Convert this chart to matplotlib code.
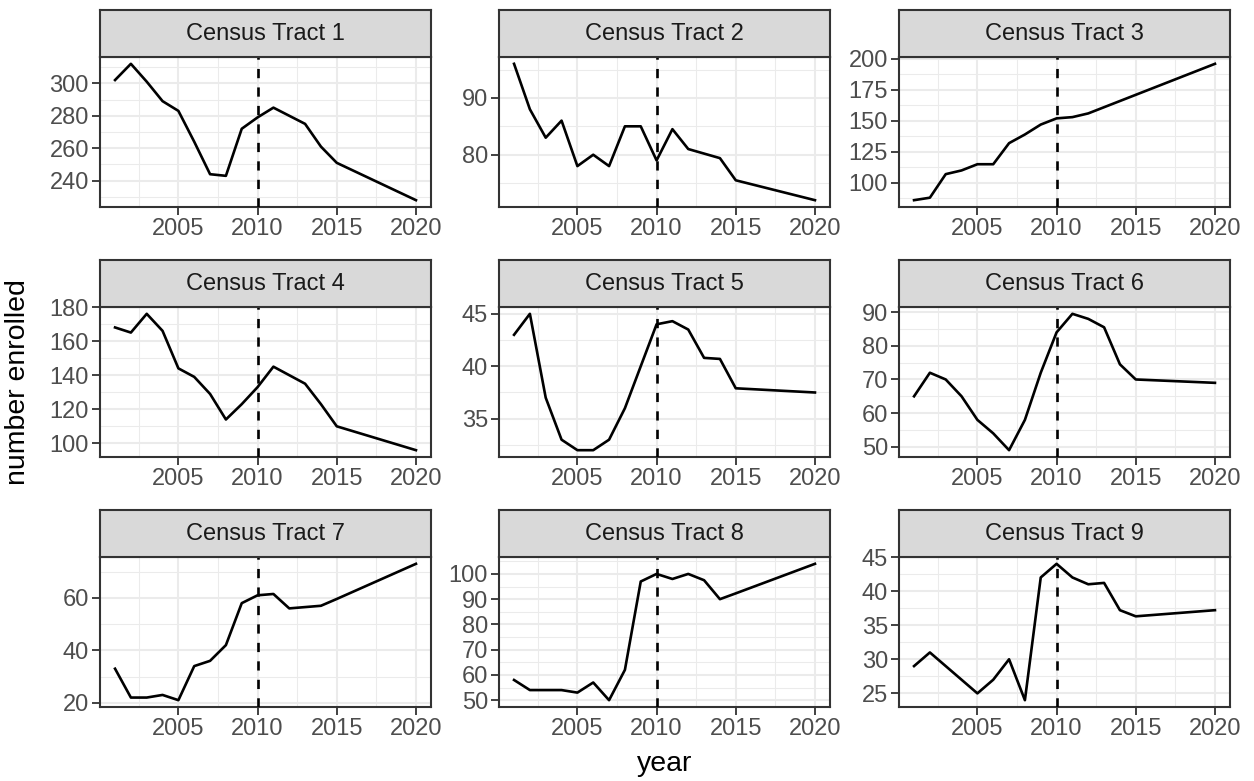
import numpy as np
import matplotlib.pyplot as plt
from matplotlib.ticker import MultipleLocator, FixedLocator

plt.rcParams['font.family'] = ['Liberation Sans', 'DejaVu Sans']

years = [2001, 2002, 2003, 2004, 2005, 2006, 2007, 2008, 2009, 2010,
         2011, 2012, 2013, 2014, 2015, 2020]

tract_names = ["Census Tract %d" % i for i in range(1, 10)]

tract1 = [302, 312, 301, 289, 283, 264, 244, 243, 272, 279, 285, 280, 275, 261, 251, 228]
tract2 = [96, 88, 83, 86, 78, 80, 78, 85, 85, 79, 84.5, 81, 80.2, 79.4, 75.5, 72]
tract3 = [86, 88, 107, 110, 115, 115, 132, 139, 147, 152, 153, 156, 161, 166, 171, 196]
tract4 = [168, 165, 176, 166, 144, 139, 129, 114, 123, 133, 145, 140, 135, 123, 110, 96]
tract5 = [43, 45, 37, 33, 32, 32, 33, 36, 40, 44, 44.3, 43.5, 40.8, 40.7, 37.9, 37.5]
tract6 = [65, 72, 70, 65, 58, 54, 49, 58, 72, 84, 89.5, 88, 85.5, 74.5, 70, 69]
tract7 = [33, 22, 22, 23, 21, 34, 36, 42, 58, 61, 61.5, 56, 56.5, 57, 59.6, 73]
tract8 = [58, 54, 54, 54, 53, 57, 50, 62, 97, 100, 98, 100, 97.5, 90, 92.3, 104]
tract9 = [29, 31, 29, 27, 25, 27, 30, 24, 42, 44, 42, 41, 41.2, 37.2, 36.3, 37.2]

enrolled = [tract1, tract2, tract3, tract4, tract5, tract6, tract7, tract8, tract9]
y_steps = [20, 10, 25, 20, 5, 10, 20, 10, 5]
cutoff_year = 2010

W, H = 1254, 781
fig = plt.figure(figsize=(W / 100, H / 100), dpi=100)

# panel geometry in pixels
lefts = [100, 499, 899]
pw = 331
plot_tops = [57, 307, 557]
ph = 150
strip_h = 47

dark = "#333333"

def expand(lo, hi, mult=0.05):
    d = (hi - lo) * mult
    return lo - d, hi + d

for i, (name, vals, step) in enumerate(zip(tract_names, enrolled, y_steps)):
    r, c = divmod(i, 3)
    x0, top = lefts[c], plot_tops[r]
    ax = fig.add_axes([x0 / W, 1 - (top + ph) / H, pw / W, ph / H])
    ax.set_facecolor("white")

    ax.set_xlim(*expand(min(years), max(years)))
    ax.set_ylim(*expand(min(vals), max(vals)))

    ax.xaxis.set_major_locator(FixedLocator([2005, 2010, 2015, 2020]))
    ax.xaxis.set_minor_locator(FixedLocator([2002.5, 2007.5, 2012.5, 2017.5]))
    ax.yaxis.set_major_locator(MultipleLocator(step))
    ax.yaxis.set_minor_locator(MultipleLocator(step / 2))

    ax.grid(which="major", color="#EBEBEB", linewidth=1.5)
    ax.grid(which="minor", color="#EBEBEB", linewidth=0.75)
    ax.set_axisbelow(True)

    ax.plot(years, vals, color="black", linewidth=1.9, zorder=3)
    ax.axvline(cutoff_year, color="black", linewidth=1.9,
               linestyle=(0, (3.5, 3.5)), zorder=4)

    for s in ax.spines.values():
        s.set_color(dark)
        s.set_linewidth(1.5)
    ax.tick_params(which="major", length=5.5, width=1.3, color=dark,
                   labelsize=17, labelcolor="#4D4D4D", pad=2.5)
    ax.tick_params(which="minor", length=0)

    # facet strip
    sx = fig.add_axes([x0 / W, 1 - top / H, pw / W, strip_h / H])
    sx.set_facecolor("#D9D9D9")
    sx.set_xticks([])
    sx.set_yticks([])
    for s in sx.spines.values():
        s.set_color(dark)
        s.set_linewidth(1.5)
    sx.text(0.5, 0.5, name, ha="center", va="center", fontsize=17,
            color="#1A1A1A", transform=sx.transAxes)

fig.text(665 / W, 1 - 764 / H, "year", ha="center", va="center", fontsize=20.5)
fig.text(18 / W, 1 - 382 / H, "number enrolled", ha="center", va="center",
         rotation=90, fontsize=20.5)

fig.savefig("out.png", dpi=100)
